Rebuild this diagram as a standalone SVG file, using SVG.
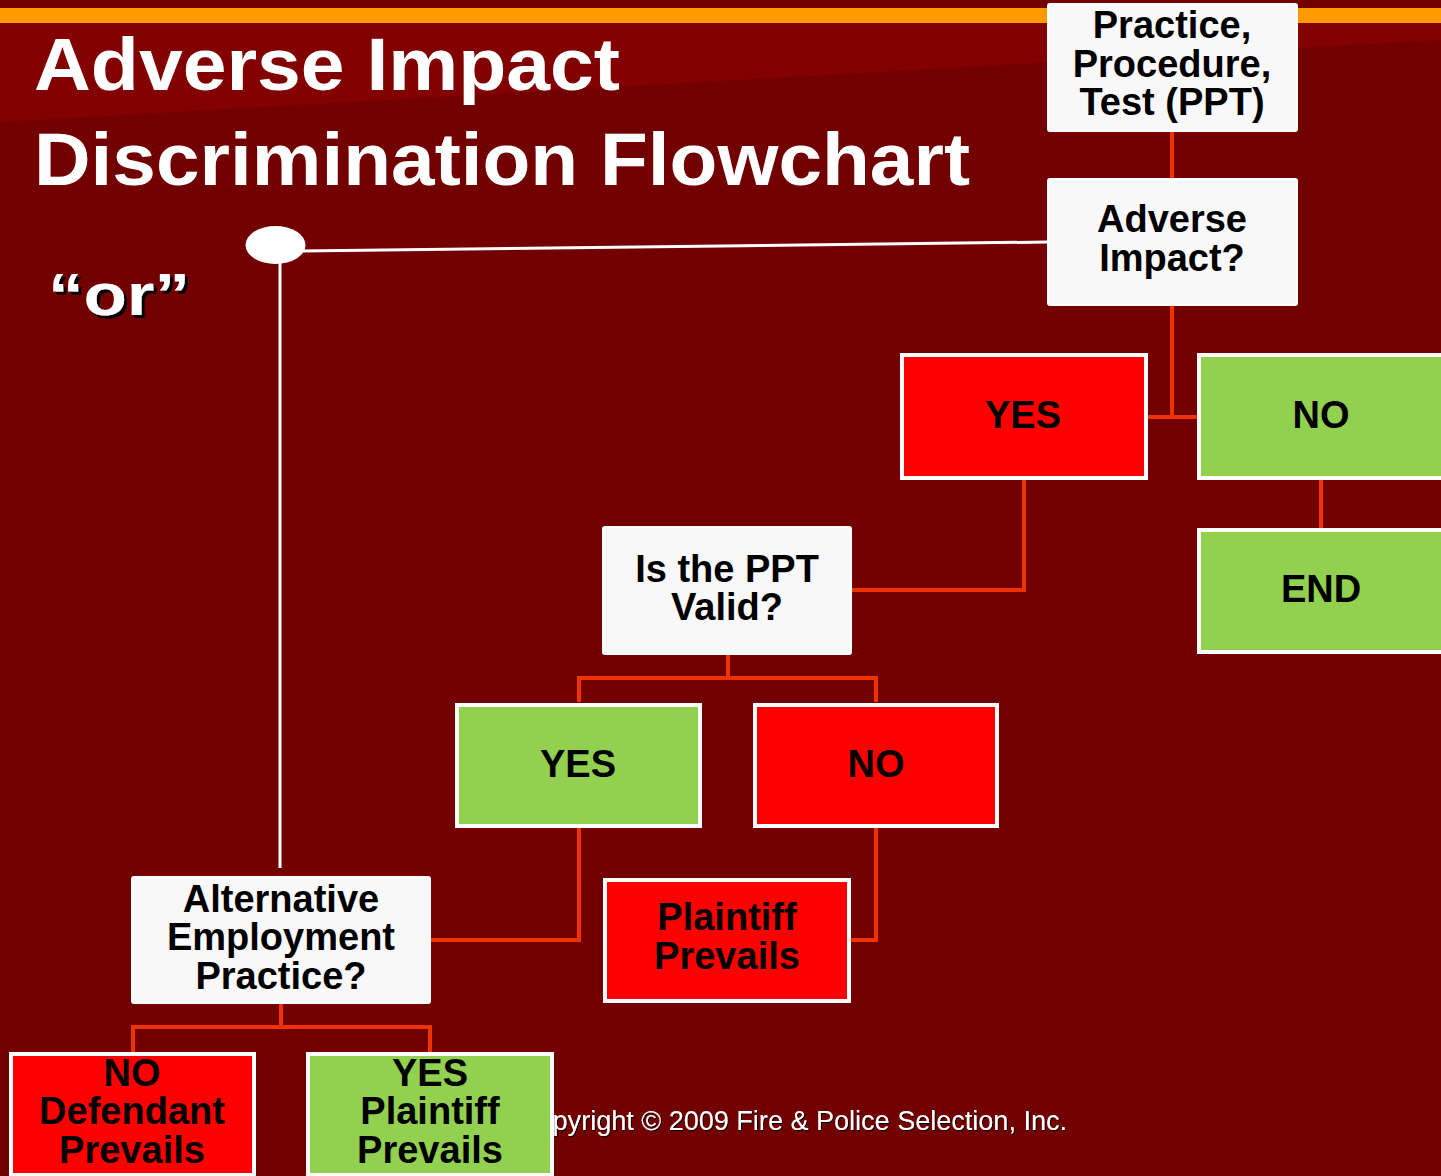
<svg xmlns="http://www.w3.org/2000/svg" width="1441" height="1176" viewBox="0 0 1441 1176">
<defs>
<filter id="sh" x="-10%" y="-20%" width="130%" height="150%">
<feDropShadow dx="3" dy="3" stdDeviation="0" flood-color="#000000" flood-opacity="1"/>
</filter>
<filter id="sh2" x="-5%" y="-20%" width="110%" height="150%">
<feDropShadow dx="1" dy="1" stdDeviation="0" flood-color="#000000" flood-opacity="1"/>
</filter>
</defs>
<style>
.bt{font-family:"Liberation Sans",Arial,sans-serif;font-weight:bold;font-size:38px;fill:#000;text-anchor:middle}
.wbox{fill:#F8F8F8;stroke:#FFFFFF;stroke-width:2}
.rbox{fill:#FF0000;stroke:#FFFFFF;stroke-width:4}
.gbox{fill:#92D050;stroke:#FFFFFF;stroke-width:4}
.con{fill:none;stroke:#EE3300;stroke-width:4}
.wl{fill:none;stroke:#FFFFFF;stroke-width:3}
.title{font-family:"Liberation Sans",Arial,sans-serif;font-weight:bold;font-size:74px;fill:#FFFFFF}
</style>
<rect x="0" y="0" width="1441" height="1176" fill="#720000"/>
<polygon points="0,23 1441,23 1441,40 0,122" fill="#830000"/>
<rect x="0" y="8" width="1441" height="15" fill="#FF9900"/>

<text x="518" y="1130" font-family="Liberation Sans,Arial,sans-serif" font-size="27" fill="#FFFFFF" filter="url(#sh2)" textLength="549" lengthAdjust="spacingAndGlyphs">Copyright © 2009 Fire &amp; Police Selection, Inc.</text>

<g id="connectors">
<path class="con" d="M1172,131 V179"/>
<path class="con" d="M1172,305 V417 M1147,417 H1197"/>
<path class="con" d="M1321,479 V528"/>
<path class="con" d="M1024,479 V590 H851"/>
<path class="con" d="M728,654 V678 M579,702 V678 H876 V702"/>
<path class="con" d="M876,827 V940 H851"/>
<path class="con" d="M579,827 V940 H430"/>
<path class="con" d="M281,1003 V1027 M133,1052 V1027 H430 V1052"/>
<path class="wl" d="M300,251 L1048,242"/>
<path class="wl" d="M280,262 V868"/>
<ellipse cx="275.5" cy="245" rx="30" ry="19" fill="#FFFFFF"/>
</g>

<g id="title">
<text class="title" x="34" y="90" textLength="586" lengthAdjust="spacingAndGlyphs">Adverse Impact</text>
<text class="title" x="34" y="185" textLength="936" lengthAdjust="spacingAndGlyphs">Discrimination Flowchart</text>
</g>
<g id="or">
<text x="48" y="315" font-family="Liberation Sans,Arial,sans-serif" font-weight="bold" font-size="60" fill="#FFFFFF" filter="url(#sh)" textLength="142" lengthAdjust="spacingAndGlyphs">“or”</text>
</g>

<g id="node-ppt">
<rect class="wbox" x="1048" y="4" width="249" height="127" rx="2"/>
<text class="bt" x="1172" y="38">Practice,</text>
<text class="bt" x="1172" y="77">Procedure,</text>
<text class="bt" x="1172" y="115">Test (PPT)</text>
</g>
<g id="node-adverse">
<rect class="wbox" x="1048" y="179" width="249" height="126" rx="2"/>
<text class="bt" x="1172" y="232">Adverse</text>
<text class="bt" x="1172" y="271">Impact?</text>
</g>
<g id="node-yes1">
<rect class="rbox" x="902" y="355" width="244" height="123"/>
<text class="bt" x="1023" y="428">YES</text>
</g>
<g id="node-no1">
<rect class="gbox" x="1199" y="355" width="246" height="123"/>
<text class="bt" x="1321" y="428">NO</text>
</g>
<g id="node-end">
<rect class="gbox" x="1199" y="530" width="246" height="122"/>
<text class="bt" x="1321" y="602">END</text>
</g>
<g id="node-valid">
<rect class="wbox" x="603" y="527" width="248" height="127" rx="2"/>
<text class="bt" x="727" y="582">Is the PPT</text>
<text class="bt" x="727" y="620">Valid?</text>
</g>
<g id="node-yes2">
<rect class="gbox" x="457" y="705" width="243" height="121"/>
<text class="bt" x="578" y="777">YES</text>
</g>
<g id="node-no2">
<rect class="rbox" x="755" y="705" width="242" height="121"/>
<text class="bt" x="876" y="777">NO</text>
</g>
<g id="node-plaintiff">
<rect class="rbox" x="605" y="880" width="244" height="121"/>
<text class="bt" x="727" y="930">Plaintiff</text>
<text class="bt" x="727" y="969">Prevails</text>
</g>
<g id="node-alternative">
<rect class="wbox" x="132" y="877" width="298" height="126" rx="2"/>
<text class="bt" x="281" y="912">Alternative</text>
<text class="bt" x="281" y="950">Employment</text>
<text class="bt" x="281" y="989">Practice?</text>
</g>
<g id="node-defendant">
<rect class="rbox" x="11" y="1054" width="243" height="121"/>
<text class="bt" x="132" y="1086">NO</text>
<text class="bt" x="132" y="1124">Defendant</text>
<text class="bt" x="132" y="1163">Prevails</text>
</g>
<g id="node-plaintiff2">
<rect class="gbox" x="308" y="1054" width="244" height="121"/>
<text class="bt" x="430" y="1086">YES</text>
<text class="bt" x="430" y="1124">Plaintiff</text>
<text class="bt" x="430" y="1163">Prevails</text>
</g>
</svg>
